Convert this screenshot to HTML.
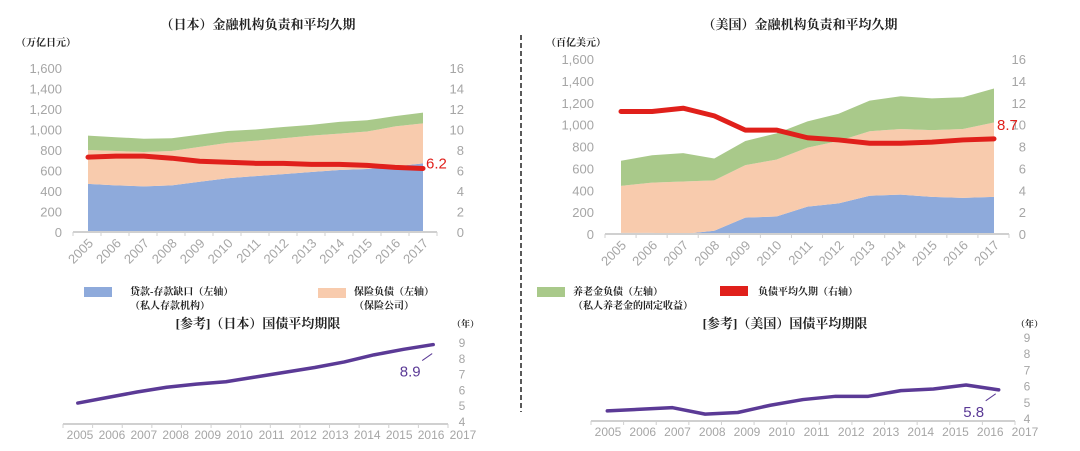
<!DOCTYPE html>
<html><head><meta charset="utf-8">
<style>
html,body{margin:0;padding:0;background:#fff;}
svg{display:block;font-family:"Liberation Sans","Noto Sans CJK SC",sans-serif;}
.cn{font-family:"Liberation Serif","Noto Serif CJK SC",serif;font-weight:bold;fill:#222;}
.tick{fill:#a6a6a6;font-size:13px;}
.tick2{fill:#a6a6a6;font-size:12px;}
</style></head>
<body>
<svg id="root" width="1080" height="451" viewBox="0 0 1080 451">
<text class="cn" x="258" y="29" font-size="13" text-anchor="middle">（日本）金融机构负责和平均久期</text>
<text class="cn" x="16" y="46" font-size="10">（万亿日元）</text>
<text class="cn" x="800" y="29" font-size="13" text-anchor="middle">（美国）金融机构负责和平均久期</text>
<text class="cn" x="546" y="46" font-size="10">（百亿美元）</text>
<line x1="521" y1="35" x2="521" y2="412" stroke="#222" stroke-width="1.5" stroke-dasharray="5,3"/>

<rect x="84" y="287" width="28" height="10" fill="#8eaadb"/>
<text class="cn" x="130" y="295" font-size="10">贷款-存款缺口（左轴）</text>
<text class="cn" x="130" y="309" font-size="10">（私人存款机构）</text>
<rect x="318" y="288" width="28" height="10" fill="#f8cbad"/>
<text class="cn" x="354" y="295" font-size="10">保险负债（左轴）</text>
<text class="cn" x="354" y="309" font-size="10">（保险公司）</text>
<rect x="537" y="287" width="28" height="10" fill="#a9c98a"/>
<text class="cn" x="573" y="295" font-size="10">养老金负债（左轴）</text>
<text class="cn" x="573" y="309" font-size="10">（私人养老金的固定收益）</text>
<rect x="720" y="286" width="28" height="10" fill="#e0201b"/>
<text class="cn" x="758" y="295" font-size="10">负债平均久期（右轴）</text>

<text class="cn" x="258" y="328" font-size="13" text-anchor="middle">[参考]（日本）国债平均期限</text>
<text class="cn" x="452" y="327" font-size="9">（年）</text>
<text class="cn" x="785" y="328" font-size="13" text-anchor="middle">[参考]（美国）国债平均期限</text>
<text class="cn" x="1016" y="327" font-size="9">（年）</text>
</svg>
<script>
const years = ['2005','2006','2007','2008','2009','2010','2011','2012','2013','2014','2015','2016','2017'];
const leftTicks = ['0','200','400','600','800','1,000','1,200','1,400','1,600'];
const rightTicks = ['0','2','4','6','8','10','12','14','16'];
const bondTicks = ['4','5','6','7','8','9'];
// Japan (trillion yen), stacked components
const jpLoanGap = [470,455,445,455,490,525,545,565,585,605,615,640,670];
const jpInsurance = [330,335,335,335,340,345,345,350,355,355,365,390,390];
const jpPension = [140,135,130,125,120,115,110,110,105,115,110,100,105];
const jpDuration = [7.3,7.4,7.4,7.2,6.9,6.8,6.7,6.7,6.6,6.6,6.5,6.3,6.2];
// US (ten billion USD)
const usLoanGap = [10,10,0,30,150,160,250,280,350,360,340,330,340];
const usInsurance = [430,460,480,460,480,520,540,570,590,600,610,630,680];
const usPension = [230,250,260,200,220,240,240,250,280,300,290,290,310];
const usDuration = [11.2,11.2,11.5,10.8,9.5,9.5,8.8,8.6,8.3,8.3,8.4,8.6,8.7];
// Government bond average maturity (years)
const jpBond = [5.2,5.55,5.9,6.2,6.4,6.55,6.85,7.15,7.45,7.8,8.25,8.6,8.9];
const usBond = [4.5,4.6,4.7,4.3,4.4,4.85,5.2,5.4,5.4,5.75,5.85,6.1,5.8];

const NS='http://www.w3.org/2000/svg';
const root=document.getElementById('root');
function mk(tag,attrs,parent){const e=document.createElementNS(NS,tag);for(const k in attrs)e.setAttribute(k,attrs[k]);(parent||root).appendChild(e);return e;}

function areaChart(cfg){
  const g=mk('g',{});
  
  
  const n=years.length;
  const x=i=>cfg.x0+(cfg.x1-cfg.x0)*i/(n-1);
  const yL=v=>cfg.yb-(cfg.yb-cfg.yt)*v/1600;
  const yR=v=>cfg.yb-(cfg.yb-cfg.yt)*v/16;
  const series=[cfg.loan,cfg.ins,cfg.pen];
  const colors=['#8eaadb','#f8cbad','#a9c98a'];
  const names=['area-loan-deposit-gap','area-insurance','area-pension'];
  let base=new Array(n).fill(0);
  series.forEach((s,k)=>{
    const top=base.map((b,i)=>b+s[i]);
    let d='M'+x(0)+','+yL(top[0]);
    for(let i=1;i<n;i++)d+='L'+x(i)+','+yL(top[i]);
    for(let i=n-1;i>=0;i--)d+='L'+x(i)+','+yL(base[i]);
    const p=mk('path',{d:d+'Z',fill:colors[k]},g);
    
    
    base=top;
  });
  const ax=mk('line',{x1:cfg.ax0,x2:cfg.ax1,y1:cfg.yb,y2:cfg.yb,stroke:'#d0d0d0','stroke-width':2},g);
  
  
  const step=(cfg.ax1-cfg.ax0)/n;
  for(let i=0;i<=n;i++){
    const t=mk('line',{x1:cfg.ax0+step*i,x2:cfg.ax0+step*i,y1:cfg.yb,y2:cfg.yb+4,stroke:'#d0d0d0','stroke-width':1},g);
    
    
  }
  years.forEach((yr,i)=>{
    const cx=x(i)+6, cy=cfg.yb+12;
    const t=mk('text',{x:cx,y:cy,class:'tick','text-anchor':'end',transform:'rotate(-45 '+cx+' '+cy+')'},g);
    t.textContent=yr;
    
    
  });
  leftTicks.forEach((lb,i)=>{
    const t=mk('text',{x:cfg.lx,y:yL(i*200)+5,class:'tick','text-anchor':'end'},g);
    t.textContent=lb;
    
    
  });
  rightTicks.forEach((lb,i)=>{
    const t=mk('text',{x:cfg.rx,y:yR(i*2)+5,class:'tick','text-anchor':'end'},g);
    t.textContent=lb;
    
    
  });
  const pts=cfg.dur.map((v,i)=>x(i)+','+yR(v)).join(' ');
  const l=mk('polyline',{points:pts,fill:'none',stroke:'#e0201b','stroke-width':5,'stroke-linejoin':'round','stroke-linecap':'round'},g);
  
  
  const last=cfg.dur[n-1];
  const lab=mk('text',{x:x(n-1)+3,y:yR(last)+cfg.labDy,fill:'#e0201b','font-size':15},g);
  lab.textContent=last.toFixed(1);
  
  
}
areaChart({name:'japan-liability-chart',x0:88,x1:423,yt:68,yb:232,ax0:73,ax1:437,lx:62,rx:464,loan:jpLoanGap,ins:jpInsurance,pen:jpPension,dur:jpDuration,labDy:0});
areaChart({name:'us-liability-chart',x0:621,x1:994,yt:59,yb:234,ax0:605,ax1:1009,lx:594,rx:1026,loan:usLoanGap,ins:usInsurance,pen:usPension,dur:usDuration,labDy:-9});

function bondChart(cfg){
  const g=mk('g',{});
  
  
  const n=years.length;
  const step=(cfg.ax1-cfg.ax0)/n;
  const x=i=>cfg.ax0+step*(i+0.5);
  const y=v=>cfg.yb-(cfg.yb-cfg.yt)*(v-4)/5;
  const ax=mk('line',{x1:cfg.ax0,x2:cfg.ax1,y1:cfg.yb+2,y2:cfg.yb+2,stroke:'#d0d0d0','stroke-width':2},g);
  
  
  for(let i=0;i<=n;i++){
    const t=mk('line',{x1:cfg.ax0+step*i,x2:cfg.ax0+step*i,y1:cfg.yb+2,y2:cfg.yb+6,stroke:'#d0d0d0'},g);
    
    
  }
  const ls=(cfg.lab1-cfg.lab0)/(n-1);
  years.forEach((yr,i)=>{
    const t=mk('text',{x:cfg.lab0+ls*i,y:cfg.yb+17,class:'tick2','text-anchor':'middle'},g);
    t.textContent=yr;
    
    
  });
  bondTicks.forEach((lb,i)=>{
    const t=mk('text',{x:cfg.rx,y:y(4+i)+4,class:'tick2','text-anchor':'middle'},g);
    t.textContent=lb;
    
    
  });
  const pts=cfg.data.map((v,i)=>x(i)+','+y(v)).join(' ');
  const l=mk('polyline',{points:pts,fill:'none',stroke:'#5b3a96','stroke-width':3.5,'stroke-linejoin':'round','stroke-linecap':'round'},g);
  
  
  const last=cfg.data[n-1];
  const lx=x(n-1)-cfg.lo, ly=y(last)+cfg.ldy;
  const lead=mk('line',{x1:lx+12,y1:ly-16,x2:lx+22,y2:ly-23,stroke:'#5b3a96','stroke-width':1},g);
  
  
  const lab=mk('text',{x:lx,y:ly,fill:'#5b3a96','font-size':15,'text-anchor':'middle'},g);
  lab.textContent=last.toFixed(1);
  
  
}
bondChart({name:'japan-bond-chart',ax0:63,ax1:448,yt:343,yb:422,lab0:80,lab1:463,rx:462,data:jpBond,lo:23,ldy:32});
bondChart({name:'us-bond-chart',ax0:591,ax1:1015,yt:338,yb:419,lab0:608,lab1:1025,rx:1027,data:usBond,lo:25,ldy:27});
</script>
</body></html>
